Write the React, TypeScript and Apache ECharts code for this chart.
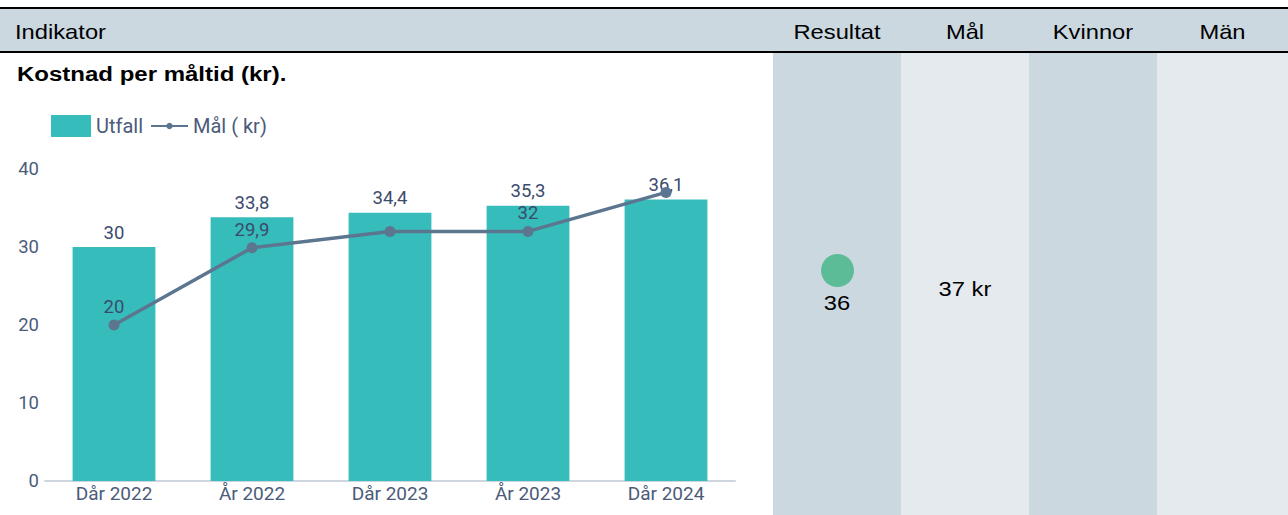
import React, { useEffect, useRef } from "react";
import * as echarts from "echarts";

const categories = ["Dår 2022", "År 2022", "Dår 2023", "År 2023", "Dår 2024"];
const utfall = [30, 33.8, 34.4, 35.3, 36.1];
const mal = [20, 29.9, 32, 32, 37];
const malLabelShown = [true, true, false, true, false];
const yTicks = [0, 10, 20, 30, 40];
const headers = ["Resultat", "Mål", "Kvinnor", "Män"];
const resultatValue = "36";
const malValue = "37 kr";

const fmt = (v: number) => String(v).replace(".", ",");

function Chart() {
  const ref = useRef<HTMLDivElement>(null);
  useEffect(() => {
    if (!ref.current) return;
    const chart = echarts.init(ref.current, undefined, { renderer: "svg" });
    const textColor = "#3b4b6c";
    const axisColor = "#4b5b7a";
    chart.setOption({
      animation: false,
      textStyle: { fontFamily: "Roboto" },
      legend: [
        {
          left: 51,
          top: 62,
          padding: 0,
          itemWidth: 40,
          itemHeight: 22,
          textStyle: { fontFamily: "Roboto", fontSize: 20, color: axisColor },
          data: [{ name: "Utfall", icon: "rect" }],
        },
        {
          left: 150,
          top: 63,
          padding: 0,
          itemWidth: 37,
          itemHeight: 8,
          textStyle: { fontFamily: "Roboto", fontSize: 20, color: axisColor },
          data: [{ name: "Mål ( kr)" }],
        },
      ],
      grid: { left: 45, right: 38, top: 116, bottom: 34 },
      xAxis: {
        type: "category",
        data: categories,
        axisLine: { lineStyle: { color: "#cdd6df", width: 2 } },
        axisTick: { show: false },
        axisLabel: { fontFamily: "Roboto", fontSize: 19, color: axisColor, margin: 3 },
      },
      yAxis: {
        type: "value",
        min: yTicks[0],
        max: yTicks[yTicks.length - 1],
        interval: 10,
        splitLine: { show: false },
        axisLine: { show: false },
        axisLabel: { fontFamily: "Roboto", fontSize: 18.5, color: axisColor, margin: 6 },
      },
      series: [
        {
          name: "Utfall",
          type: "bar",
          barWidth: "60%",
          data: utfall,
          itemStyle: { color: "#37bcbc" },
          label: {
            show: true,
            position: "top",
            distance: 5,
            fontFamily: "Roboto",
            fontSize: 18.5,
            color: textColor,
            formatter: (p: any) => fmt(p.value),
          },
        },
        {
          name: "Mål ( kr)",
          type: "line",
          data: mal.map((v, i) => ({ value: v, label: { show: malLabelShown[i] } })),
          symbol: "circle",
          symbolSize: 11,
          lineStyle: { color: "#5c7690", width: 3.5 },
          itemStyle: { color: "#5c7690" },
          label: {
            show: true,
            position: "top",
            distance: 3,
            fontFamily: "Roboto",
            fontSize: 18.5,
            color: textColor,
            formatter: (p: any) => fmt(p.value),
          },
        },
      ],
    });
    return () => chart.dispose();
  }, []);
  return <div ref={ref} style={{ position: "absolute", left: 0, top: 53, width: 773, height: 462 }} />;
}

const stretch = (origin: string): React.CSSProperties => ({
  transform: "scaleX(1.13)",
  transformOrigin: origin,
});

export default function App() {
  useEffect(() => {
    document.body.style.margin = "0";
  }, []);
  const colLeft = [773, 901, 1029, 1157];
  const colW = [128, 128, 128, 131];
  const colBg = ["#cbd8e0", "#e5eaef", "#cbd8e0", "#e5eaef"];
  return (
    <div
      style={{
        position: "fixed",
        left: 0,
        top: 0,
        width: 1288,
        height: 515,
        background: "#ffffff",
        fontFamily: "'Liberation Sans', Arial, sans-serif",
        overflow: "hidden",
      }}
    >
      {colLeft.map((x, i) => (
        <div key={i} style={{ position: "absolute", left: x, top: 53, width: colW[i], height: 462, background: colBg[i] }} />
      ))}
      <div style={{ position: "absolute", left: 0, top: 7, width: 1288, height: 2, background: "#000" }} />
      <div style={{ position: "absolute", left: 0, top: 9, width: 1288, height: 42, background: "#cbd8e0" }} />
      <div style={{ position: "absolute", left: 0, top: 51, width: 1288, height: 2, background: "#000" }} />
      <div
        style={{
          position: "absolute",
          left: 15,
          top: 11,
          height: 42,
          lineHeight: "42px",
          fontSize: 21,
          color: "#000",
          whiteSpace: "nowrap",
          ...stretch("left center"),
        }}
      >
        Indikator
      </div>
      {headers.map((h, i) => (
        <div
          key={h}
          style={{
            position: "absolute",
            left: colLeft[i],
            top: 11,
            width: colW[i],
            height: 42,
            lineHeight: "42px",
            textAlign: "center",
            fontSize: 21,
            color: "#000",
            whiteSpace: "nowrap",
            ...stretch("center center"),
          }}
        >
          {h}
        </div>
      ))}
      <div
        style={{
          position: "absolute",
          left: 17,
          top: 62,
          fontSize: 20,
          fontWeight: "bold",
          color: "#000",
          lineHeight: "24px",
          whiteSpace: "nowrap",
          transform: "scaleX(1.2)",
          transformOrigin: "left center",
        }}
      >
        Kostnad per måltid (kr).
      </div>
      <Chart />
      <div
        style={{
          position: "absolute",
          left: 837 - 16.5,
          top: 254,
          width: 33,
          height: 33,
          borderRadius: 16.5,
          background: "#5bbc97",
        }}
      />
      <div
        style={{
          position: "absolute",
          left: 773,
          top: 290,
          width: 128,
          textAlign: "center",
          fontSize: 21,
          lineHeight: "26px",
          color: "#000",
          ...stretch("center center"),
        }}
      >
        {resultatValue}
      </div>
      <div
        style={{
          position: "absolute",
          left: 901,
          top: 276,
          width: 128,
          textAlign: "center",
          fontSize: 21,
          lineHeight: "26px",
          color: "#000",
          ...stretch("center center"),
        }}
      >
        {malValue}
      </div>
    </div>
  );
}
